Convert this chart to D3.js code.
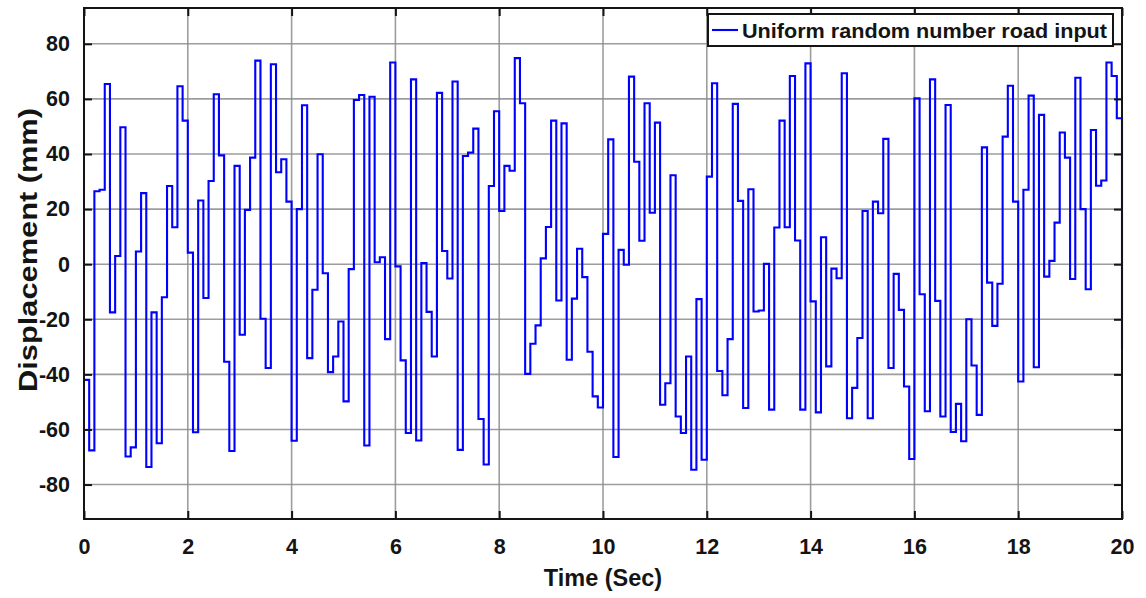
<!DOCTYPE html>
<html>
<head>
<meta charset="utf-8">
<script src="https://cdn.jsdelivr.net/npm/d3@7"></script>
<style>
  html, body { margin: 0; padding: 0; background: #ffffff; }
  svg { display: block; }
  text { font-family: "Liberation Sans", Arial, sans-serif; font-weight: bold; fill: #141414; }
</style>
</head>
<body>
<svg id="chart" width="1146" height="598"></svg>
<script>
// Road input sampled every 0.1 s (value held until the next sample), in mm
const sampleStep = 0.1;
const displacement = [
  -42, -67.6, 26.5, 27, 65.4, -17.5, 3, 49.7, -69.8, -66.5,
  4.6, 25.8, -73.6, -17.5, -65, -12, 28.4, 13.4, 64.6, 52.1,
  4.2, -61, 23.1, -12.3, 30.2, 61.7, 39.5, -35.4, -67.8, 35.7,
  -25.6, 19.7, 38.7, 73.9, -19.8, -37.7, 72.6, 33.4, 38.1, 22.7,
  -64.1, 20, 57.7, -34.1, -9.3, 39.9, -3.3, -39.2, -33.5, -20.8,
  -49.8, -1.8, 59.6, 61.4, -65.8, 60.8, 0.7, 2.5, -27.2, 73.2,
  -0.8, -34.9, -61.3, 67.1, -64, 0.4, -17.3, -33.5, 62.2, 4.8,
  -5.2, 66.3, -67.4, 39.3, 40.5, 49.2, -56.2, -72.7, 28.4, 55.5,
  19.3, 35.7, 33.9, 74.8, 58.4, -39.8, -28.9, -22.2, 2.1, 13.5,
  52.1, -13.2, 51.1, -34.7, -12.5, 5.6, -4.7, -31.8, -48, -52,
  11, 45.3, -70, 5.2, -0.2, 68.1, 37.2, 8.5, 58.4, 18.7,
  51.4, -51, -43.2, 32.3, -55.3, -61.3, -33.5, -74.6, -12.7, -71,
  31.8, 65.7, -38.8, -47.6, -27.2, 58.2, 23, -52.2, 27.2, -17.2,
  -16.8, 0.1, -52.8, 13.3, 52.1, 13.4, 68.3, 8.6, -52.8, 72.9,
  -13.5, -53.8, 9.8, -37.1, -1.6, -5.1, 69.3, -55.9, -44.9, -26.8,
  19.3, -55.9, 22.7, 18.5, 45.5, -37.7, -3.5, -16.6, -44.4, -70.7,
  60.2, -10.9, -53.4, 67.1, -13.3, -55.3, 57.8, -60.9, -50.7, -64.3,
  -20, -36.8, -54.7, 42.4, -6.7, -22.4, -7.1, 46.3, 64.8, 22.7,
  -42.6, 27, 61.2, -37.4, 54.2, -4.5, 1.2, 15.1, 47.8, 38.7,
  -5.4, 67.7, 20, -9.1, 48.7, 28.5, 30.4, 73.2, 68.3, 53,
  -31
];
const xTicks = [0, 2, 4, 6, 8, 10, 12, 14, 16, 18, 20];
const yTicks = [-80, -60, -40, -20, 0, 20, 40, 60, 80];
const xDomain = [0, 20];
const yDomain = [-92.5, 93];
const seriesName = "Uniform random number road input";
const xTitle = "Time (Sec)";
const yTitle = "Displacement (mm)";

const points = displacement.map((v, i) => ({ t: +(i * sampleStep).toFixed(1), v }));

const svg = d3.select("#chart");
const plotL = 84, plotR = 1122, plotT = 8, plotB = 519;
const plotW = plotR - plotL, plotH = plotB - plotT;

const x = d3.scaleLinear().domain(xDomain).range([plotL, plotR]);
const y = d3.scaleLinear().domain(yDomain).range([plotB, plotT]);

// Plain hyphen-minus for negative tick labels
const tickFmt = d => String(d);

// Grid lines
const grid = svg.append("g").attr("stroke", "#8c8c8c").attr("stroke-width", 1.6).attr("stroke-opacity", 0.85);
grid.selectAll("line.gx").data(xTicks.slice(1, -1)).join("line")
  .attr("x1", d => x(d)).attr("x2", d => x(d)).attr("y1", plotT).attr("y2", plotB);
grid.selectAll("line.gy").data(yTicks).join("line")
  .attr("x1", plotL).attr("x2", plotR).attr("y1", d => y(d)).attr("y2", d => y(d));

// Series: zero-order hold
const line = d3.line().x(d => x(d.t)).y(d => y(d.v)).curve(d3.curveStepAfter);
svg.append("path").datum(points)
  .attr("fill", "none").attr("stroke", "#0000ff").attr("stroke-width", 2.1)
  .attr("stroke-linejoin", "miter")
  .attr("d", line);

// Axes with inward ticks on all four sides
const tickLen = 8;
const axB = svg.append("g").attr("transform", `translate(0,${plotB})`)
  .call(d3.axisBottom(x).tickValues(xTicks).tickFormat(tickFmt).tickSizeInner(-tickLen).tickSizeOuter(0).tickPadding(20));
const axT = svg.append("g").attr("transform", `translate(0,${plotT})`)
  .call(d3.axisTop(x).tickValues(xTicks).tickSizeInner(-tickLen).tickSizeOuter(0).tickFormat(""));
const axL = svg.append("g").attr("transform", `translate(${plotL},0)`)
  .call(d3.axisLeft(y).tickValues(yTicks).tickFormat(tickFmt).tickSizeInner(-tickLen).tickSizeOuter(0).tickPadding(14));
const axR = svg.append("g").attr("transform", `translate(${plotR},0)`)
  .call(d3.axisRight(y).tickValues(yTicks).tickSizeInner(-tickLen).tickSizeOuter(0).tickFormat(""));
[axB, axT, axL, axR].forEach(a => {
  a.select(".domain").remove();
  a.selectAll(".tick line").attr("stroke", "#141414").attr("stroke-width", 2);
  a.selectAll(".tick text").attr("font-size", 21.5).attr("font-weight", "bold")
    .attr("font-family", "'Liberation Sans', Arial, sans-serif").attr("fill", "#141414");
});

// Axes box
svg.append("rect").attr("x", plotL).attr("y", plotT).attr("width", plotW).attr("height", plotH)
  .attr("fill", "none").attr("stroke", "#141414").attr("stroke-width", 2);

// Axis titles
svg.append("text").attr("x", 603).attr("y", 586)
  .attr("text-anchor", "middle").attr("font-size", 23.5).text(xTitle);
svg.append("text").attr("transform", "translate(37,250) rotate(-90)")
  .attr("text-anchor", "middle").attr("font-size", 25)
  .attr("textLength", 284).attr("lengthAdjust", "spacingAndGlyphs").text(yTitle);

// Legend
const lg = svg.append("g");
const lgX = 708, lgY = 14, lgW = 405, lgH = 32;
lg.append("rect").attr("x", lgX).attr("y", lgY).attr("width", lgW).attr("height", lgH)
  .attr("fill", "#ffffff").attr("stroke", "#141414").attr("stroke-width", 2);
lg.append("line").attr("x1", lgX + 4).attr("x2", lgX + 30).attr("y1", lgY + lgH / 2).attr("y2", lgY + lgH / 2)
  .attr("stroke", "#0000ff").attr("stroke-width", 2.1);
lg.append("text").attr("x", lgX + 34).attr("y", lgY + lgH / 2 + 7.5)
  .attr("font-size", 21).attr("textLength", 365).attr("lengthAdjust", "spacingAndGlyphs").text(seriesName);
</script>
</body>
</html>
